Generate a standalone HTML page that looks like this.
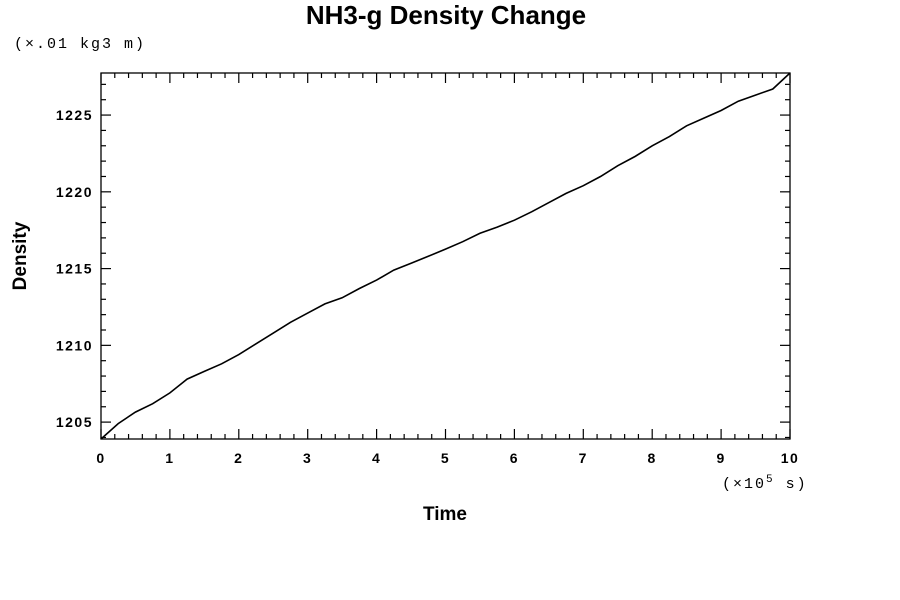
<!DOCTYPE html>
<html><head><meta charset="utf-8"><style>
body{margin:0;background:#fff;}
svg{display:block;font-family:"Liberation Sans",sans-serif;}
</style></head><body>
<svg id="chart" width="900" height="600">
<text x="446" y="24" text-anchor="middle" font-size="26" font-weight="bold">NH3-g Density Change</text>
<text x="14" y="48" font-size="15" letter-spacing="2" font-family="Liberation Mono, monospace">(×.01 kg3 m)</text>
<text x="722" y="488" font-size="15" letter-spacing="2" font-family="Liberation Mono, monospace">(×10<tspan dy="-6" font-size="11">5</tspan><tspan dy="6"> s)</tspan></text>
<text x="445" y="520" text-anchor="middle" font-size="19" font-weight="bold">Time</text>
<text transform="translate(26,256) rotate(-90)" text-anchor="middle" font-size="19" font-weight="bold">Density</text>
<rect x="101" y="73" width="689" height="366" fill="none" stroke="#000" stroke-width="1.3"/>
<g id="ticks"></g>
<path id="line" fill="none" stroke="#000" stroke-width="1.6"/>
</svg>
<script>
const timeValues=[0,0.25,0.5,0.75,1,1.25,1.5,1.75,2,2.25,2.5,2.75,3,3.25,3.5,3.75,4,4.25,4.5,4.75,5,5.25,5.5,5.75,6,6.25,6.5,6.75,7,7.25,7.5,7.75,8,8.25,8.5,8.75,9,9.25,9.5,9.75,10];
const densityValues=[1203.9,1204.9,1205.65,1206.2,1206.9,1207.8,1208.3,1208.8,1209.4,1210.1,1210.8,1211.5,1212.1,1212.7,1213.1,1213.7,1214.25,1214.9,1215.35,1215.8,1216.27,1216.75,1217.3,1217.7,1218.15,1218.7,1219.3,1219.9,1220.4,1221.0,1221.7,1222.3,1223.0,1223.6,1224.3,1224.8,1225.3,1225.9,1226.3,1226.7,1227.74];
const xTicks=[0,1,2,3,4,5,6,7,8,9,10];
const yTicks=[1205,1210,1215,1220,1225];
const X0=101,X1=790,Y0=439,Y1=73,xMin=0,xMax=10,yMin=1203.9,yMax=1227.74;
const sx=v=>X0+(v-xMin)/(xMax-xMin)*(X1-X0);
const sy=v=>Y0-(v-yMin)/(yMax-yMin)*(Y0-Y1);
const NS="http://www.w3.org/2000/svg";
const g=document.getElementById('ticks');
function ln(x1,y1,x2,y2){const l=document.createElementNS(NS,'line');l.setAttribute('x1',x1);l.setAttribute('y1',y1);l.setAttribute('x2',x2);l.setAttribute('y2',y2);l.setAttribute('stroke','#000');l.setAttribute('stroke-width','1.2');


g.appendChild(l);}
function tx(x,y,s,anchor){const t=document.createElementNS(NS,'text');t.setAttribute('x',x);t.setAttribute('y',y);t.setAttribute('font-size','14');t.setAttribute('letter-spacing','1.5');t.setAttribute('font-weight','bold');t.setAttribute('text-anchor',anchor);t.textContent=s;


g.appendChild(t);}
for(let i=0;i<=50;i++){const v=i*0.2,x=sx(v),L=(i%5===0)?10:5;ln(x,Y0,x,Y0-L);ln(x,Y1,x,Y1+L);}
xTicks.forEach(v=>tx(sx(v),463,String(v),'middle'));
for(let v=1204;v<=1227;v++){const y=sy(v),L=(v%5===0)?10:5;ln(X0,y,X0+L,y);ln(X1,y,X1-L,y);}
yTicks.forEach(v=>tx(93,sy(v)+5,String(v),'end'));
document.getElementById('line').setAttribute('d',timeValues.map((t,i)=>(i?'L':'M')+sx(t).toFixed(1)+' '+sy(densityValues[i]).toFixed(1)).join(' '));
</script>
</body></html>
